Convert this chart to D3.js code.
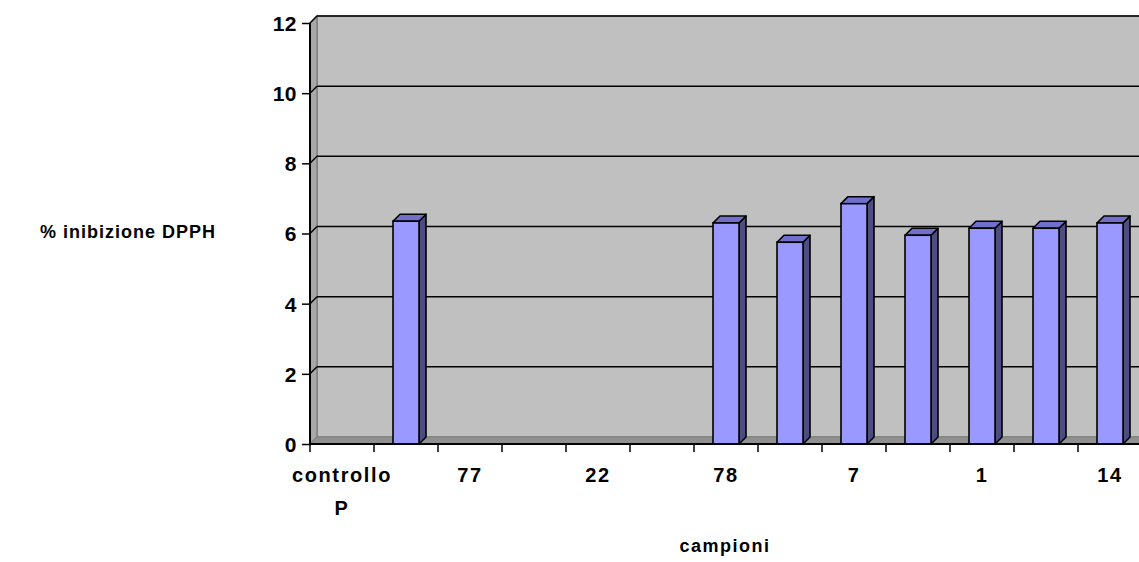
<!DOCTYPE html>
<html>
<head>
<meta charset="utf-8">
<script src="https://cdn.jsdelivr.net/npm/d3@7"></script>
<style>
  body { margin: 0; background: #fff; }
  text { font-family: "Liberation Sans", Arial, sans-serif; font-weight: bold; fill: #000; }
</style>
</head>
<body>
<svg id="chart" width="1139" height="562"></svg>
<script>
// categories (only every other one gets a label on the axis)
var categories = ["c1", "c2", "c3", "c4", "c5", "c6", "c7", "c8", "c9", "c10", "c11", "c12", "c13"]
var tickLabels = ["controllo P", "", "77", "", "22", "", "78", "", "7", "", "1", "", "14"]
var values = [null, 6.35, null, null, null, null, 6.3, 5.75, 6.85, 5.95, 6.15, 6.15, 6.3]
var yTicks = [0, 2, 4, 6, 8, 10, 12]

function drawChart() {
  var svg = d3.select("#chart")
  var dx = 7, dy = -7
  var pLeft = 310, pRight = 1142, pBottom = 444, pTop = 23

  var x = d3.scaleBand().domain(categories).range([pLeft, pRight]).paddingInner(0).paddingOuter(0)
  var y = d3.scaleLinear().domain([0, 12]).range([pBottom, pTop])

  // back wall
  svg.append("rect").attr("x", pLeft + dx).attr("y", pTop + dy).attr("width", pRight - pLeft).attr("height", pBottom - pTop)
    .style("fill", "#c0c0c0").style("stroke", "#808080").style("stroke-width", 1.5)
  // side wall
  svg.append("polygon")
    .attr("points", [[pLeft, pBottom], [pLeft, pTop], [pLeft + dx, pTop + dy], [pLeft + dx, pBottom + dy]].join(" "))
    .style("fill", "#a8a8a8").style("stroke", "#808080").style("stroke-width", 1.5)
  // floor
  svg.append("polygon")
    .attr("points", [[pLeft, pBottom], [pLeft + dx, pBottom + dy], [pRight + dx, pBottom + dy], [pRight, pBottom]].join(" "))
    .style("fill", "#909090").style("stroke", "#808080").style("stroke-width", 1)

  // gridlines on the wall
  yTicks.filter(function(d) { return d > 0 }).forEach(function(t) {
    svg.append("line").attr("x1", pLeft + dx).attr("x2", pRight + dx).attr("y1", y(t) + dy).attr("y2", y(t) + dy)
      .style("stroke", "#000").style("stroke-width", 1.5)
    svg.append("line").attr("x1", pLeft).attr("x2", pLeft + dx).attr("y1", y(t)).attr("y2", y(t) + dy)
      .style("stroke", "#000").style("stroke-width", 1.5)
  })

  // bars
  var bw = 26
  var bars = svg.append("g")
  categories.forEach(function(c, i) {
    var v = values[i]
    if (v == null) return
    var x0 = x(c) + (x.bandwidth() - bw) / 2, x1 = x0 + bw, yt = y(v)
    bars.append("polygon")
      .attr("points", [[x1, pBottom], [x1, yt], [x1 + dx, yt + dy], [x1 + dx, pBottom + dy]].join(" "))
      .style("fill", "#4d4d80").style("stroke", "#000").style("stroke-width", 1.6).style("stroke-linejoin", "round")
    bars.append("polygon")
      .attr("points", [[x0, yt], [x0 + dx, yt + dy], [x1 + dx, yt + dy], [x1, yt]].join(" "))
      .style("fill", "#7070cc").style("stroke", "#000").style("stroke-width", 1.6).style("stroke-linejoin", "round")
    bars.append("rect").attr("x", x0).attr("y", yt).attr("width", bw).attr("height", pBottom - yt)
      .style("fill", "#9999ff").style("stroke", "#000").style("stroke-width", 1.6)
  })

  // y axis
  var yAxis = d3.axisLeft(y).tickValues(yTicks).tickSize(8).tickPadding(5)
  var gy = svg.append("g").attr("transform", "translate(" + pLeft + ",0)").call(yAxis)
  gy.select(".domain").remove()
  gy.selectAll(".tick line").style("stroke", "#000").style("stroke-width", 1.5)
  gy.selectAll(".tick text").style("font-size", "21px").style("font-family", "Liberation Sans, Arial, sans-serif")
    .style("font-weight", "bold").style("letter-spacing", "0.5px").attr("dy", "0.35em")
  svg.append("line").attr("x1", pLeft).attr("x2", pLeft).attr("y1", pTop).attr("y2", pBottom)
    .style("stroke", "#000").style("stroke-width", 2)

  // x axis
  svg.append("line").attr("x1", pLeft).attr("x2", pRight).attr("y1", pBottom).attr("y2", pBottom)
    .style("stroke", "#000").style("stroke-width", 2)
  categories.concat(["end"]).forEach(function(c, i) {
    var xt = pLeft + i * x.bandwidth()
    svg.append("line").attr("x1", xt).attr("x2", xt).attr("y1", pBottom).attr("y2", pBottom + 8)
      .style("stroke", "#000").style("stroke-width", 1.5)
  })
  categories.forEach(function(c, i) {
    var lab = tickLabels[i]
    if (!lab) return
    var cx = x(c) + x.bandwidth() / 2
    var t = svg.append("text").attr("x", cx).attr("y", 482)
      .attr("text-anchor", "middle").style("font-size", "20px").style("letter-spacing", "1.6px")
    var parts = lab === "controllo P" ? ["controllo", "P"] : [lab]
    parts.forEach(function(p, j) {
      t.append("tspan").attr("x", cx).attr("dy", j === 0 ? 0 : 33).text(p)
    })
  })

  // axis titles
  svg.append("text").attr("x", 128).attr("y", 238).attr("text-anchor", "middle")
    .style("font-size", "18px").style("letter-spacing", "1px").text("% inibizione DPPH")
  svg.append("text").attr("x", 725).attr("y", 552).attr("text-anchor", "middle")
    .style("font-size", "18px").style("letter-spacing", "1.5px").text("campioni")
}
drawChart()
</script>
</body>
</html>
